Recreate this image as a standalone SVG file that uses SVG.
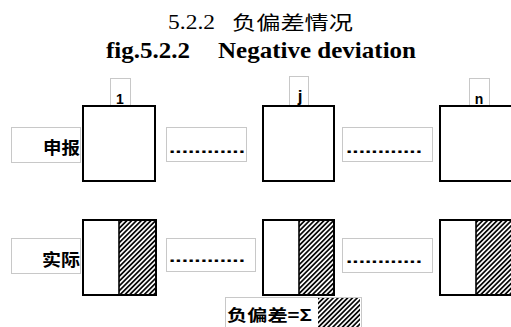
<svg xmlns="http://www.w3.org/2000/svg" width="511" height="327" viewBox="0 0 511 327">
<style>
.box{fill:#fff;stroke:#000;stroke-width:2}
.div{stroke:#000;stroke-width:1.6}
.lbl{fill:#fff;stroke:#c8c8c8;stroke-width:1}
.idx{font-family:"Liberation Sans",Arial,sans-serif;font-weight:bold;font-size:14px;fill:#000;text-anchor:middle}
.cjk{font-family:"Noto Sans CJK SC",sans-serif;font-weight:bold;fill:#000}
.dots{font-family:"Liberation Sans",Arial,sans-serif;font-weight:bold;font-size:17px;fill:#000}
.t1{font-family:"Liberation Serif","Noto Sans CJK SC",serif;font-size:20px;fill:#000}
.t2{font-family:"Liberation Serif",serif;font-weight:bold;font-size:23px;fill:#000}
</style>
<defs>
<pattern id="hatch" patternUnits="userSpaceOnUse" width="3.4" height="10" patternTransform="rotate(45)">
<line x1="0.9" y1="0" x2="0.9" y2="10" stroke="#000" stroke-width="1.7"/>
</pattern>
</defs>
<rect width="511" height="327" fill="#fff"/>
<g id="title">
<text class="t1" x="168" y="29" textLength="47" lengthAdjust="spacingAndGlyphs">5.2.2</text>
<text class="t1" x="232" y="30" textLength="121" lengthAdjust="spacingAndGlyphs" style="font-family:'Noto Sans CJK SC',sans-serif;font-size:19px">负偏差情况</text>
<text class="t2" x="106" y="58" textLength="84" lengthAdjust="spacingAndGlyphs">fig.5.2.2</text>
<text class="t2" x="218" y="58" textLength="198" lengthAdjust="spacingAndGlyphs">Negative deviation</text>
</g>
<g id="row-labels">
<g id="label-declared">
<rect class="lbl" x="11.5" y="127.5" width="69" height="35"/>
<text class="cjk" x="43" y="154" font-size="17" textLength="37" lengthAdjust="spacingAndGlyphs">申报</text>
</g>
<g id="label-actual">
<rect class="lbl" x="11.5" y="238.5" width="69" height="35"/>
<text class="cjk" x="42" y="266" font-size="17" textLength="38" lengthAdjust="spacingAndGlyphs">实际</text>
</g>
</g>
<g id="index-labels">
<g id="idx-1"><rect class="lbl" x="110.5" y="78.5" width="20" height="30"/><text class="idx" x="120" y="104">1</text></g>
<g id="idx-j"><rect class="lbl" x="289.5" y="76.5" width="19" height="32"/><text class="idx" x="300" y="102" style="font-size:17px">j</text></g>
<g id="idx-n"><rect class="lbl" x="469.5" y="78.5" width="20" height="30"/><text class="idx" x="479" y="104">n</text></g>
</g>
<g id="declared-boxes">
<rect id="decl-1" class="box" x="83" y="106" width="72" height="75"/>
<rect id="decl-j" class="box" x="263" y="106" width="71" height="75"/>
<rect id="decl-n" class="box" x="440" y="106" width="72" height="75"/>
</g>
<g id="actual-boxes">
<g id="act-1">
<rect class="box" x="83" y="220" width="73" height="75"/>
<rect x="119" y="220" width="37" height="75" fill="url(#hatch)"/>
<rect x="83" y="220" width="73" height="75" fill="none" stroke="#000" stroke-width="2"/>
<line class="div" x1="119" y1="220" x2="119" y2="295"/>
</g>
<g id="act-j">
<rect class="box" x="263" y="220" width="71" height="75"/>
<rect x="299" y="220" width="35" height="75" fill="url(#hatch)"/>
<rect x="263" y="220" width="71" height="75" fill="none" stroke="#000" stroke-width="2"/>
<line class="div" x1="299" y1="220" x2="299" y2="295"/>
</g>
<g id="act-n">
<rect class="box" x="440" y="220" width="72" height="75"/>
<rect x="476" y="220" width="36" height="75" fill="url(#hatch)"/>
<rect x="440" y="220" width="72" height="75" fill="none" stroke="#000" stroke-width="2"/>
<line class="div" x1="476" y1="220" x2="476" y2="295"/>
</g>
</g>
<g id="ellipses">
<g id="dots-1"><rect class="lbl" x="166.5" y="127.5" width="80" height="34"/><text class="dots" x="169" y="153" textLength="76" lengthAdjust="spacingAndGlyphs">............</text></g>
<g id="dots-2"><rect class="lbl" x="342.5" y="127.5" width="90" height="34"/><text class="dots" x="346" y="153" textLength="76" lengthAdjust="spacingAndGlyphs">............</text></g>
<g id="dots-3"><rect class="lbl" x="166.5" y="238.5" width="89" height="33"/><text class="dots" x="169" y="262" textLength="76" lengthAdjust="spacingAndGlyphs">............</text></g>
<g id="dots-4"><rect class="lbl" x="342.5" y="238.5" width="90" height="34"/><text class="dots" x="346" y="263" textLength="76" lengthAdjust="spacingAndGlyphs">............</text></g>
</g>
<g id="legend">
<rect class="lbl" x="225.5" y="297.5" width="136" height="40"/>
<text class="cjk" x="227" y="321" font-size="16" textLength="85" lengthAdjust="spacingAndGlyphs">负偏差=Σ</text>
<rect x="318" y="298" width="42" height="29" fill="url(#hatch)"/>
</g>
</svg>
